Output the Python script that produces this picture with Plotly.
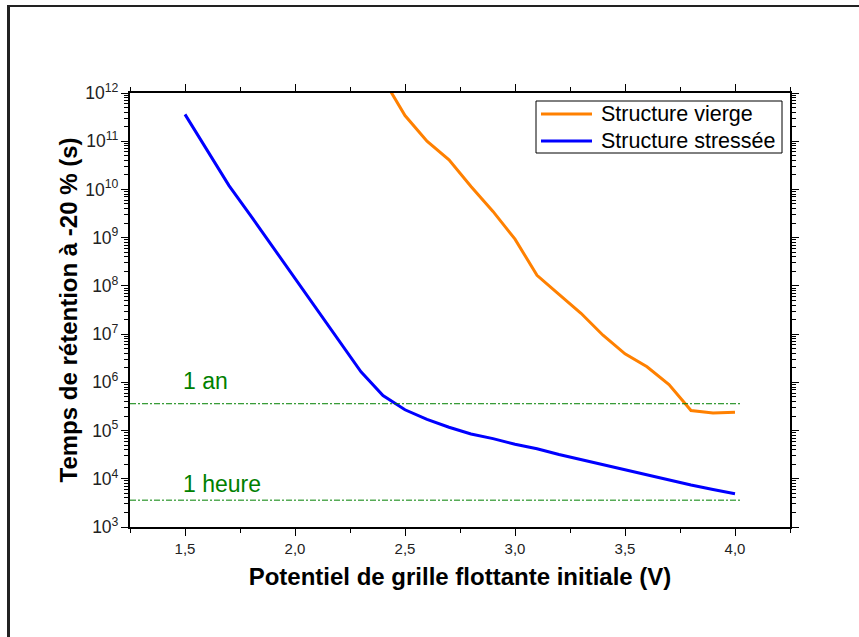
import math
import plotly.graph_objects as go

# Potentiel de grille flottante initiale (V)
v_vierge = [2.4, 2.5, 2.6, 2.7, 2.8, 2.9, 3.0, 3.1, 3.2, 3.3, 3.4, 3.5, 3.6, 3.7, 3.8, 3.9, 4.0]
t_vierge = [2.0e12, 3.4e11, 1.0e11, 4.1e10, 1.15e10, 3.5e9, 9.3e8, 1.66e8, 6.7e7, 2.7e7,
            9.5e6, 3.9e6, 2.1e6, 9.0e5, 2.6e5, 2.3e5, 2.4e5]

v_stress = [1.5, 1.6, 1.7, 1.8, 1.9, 2.0, 2.1, 2.2, 2.3, 2.4, 2.5, 2.6, 2.7, 2.8, 2.9,
            3.0, 3.1, 3.2, 3.3, 3.4, 3.5, 3.6, 3.7, 3.8, 3.9, 4.0]
t_stress = [3.6e11, 6.5e10, 1.2e10, 2.8e9, 6.3e8, 1.45e8, 3.3e7, 7.5e6, 1.65e6, 5.3e5,
            2.7e5, 1.7e5, 1.17e5, 8.5e4, 6.8e4, 5.2e4, 4.2e4, 3.2e4, 2.5e4, 1.95e4,
            1.5e4, 1.17e4, 9.3e3, 7.4e3, 6.0e3, 4.9e3]

# Seuils de rétention (s)
seuil_noms = ["1 an", "1 heure"]
seuil_vals = [3.6e5, 3.6e3]
seuil_xmax = 4.03

series_noms = ["Structure vierge", "Structure stressée"]
series_couleurs = ["#FF8000", "#0000FF"]

W, H = 859, 637
L, R, T, B = 130, 69, 93, 110
font = "Liberation Sans, Arial, sans-serif"
green = "#008000"


def px_x(px):
    """pixel horizontal -> coordonnée papier"""
    return (px - L) / (W - L - R)


def px_y(py):
    """pixel vertical -> coordonnée papier"""
    return (H - B - py) / (H - T - B)


fig = go.Figure()
for (xs, ys), nom, coul in zip([(v_vierge, t_vierge), (v_stress, t_stress)],
                               series_noms, series_couleurs):
    fig.add_trace(go.Scatter(x=xs, y=ys, mode="lines", name=nom, showlegend=False,
                             line=dict(color=coul, width=3)))

decalage_texte = {"1 an": 8, "1 heure": 1}
for nom, val in zip(seuil_noms, seuil_vals):
    fig.add_trace(go.Scatter(x=[1.25, seuil_xmax], y=[val, val], mode="lines",
                             showlegend=False, hoverinfo="skip",
                             line=dict(color=green, width=1, dash="6px,2px,2px,2px")))
    fig.add_annotation(x=1.5, y=math.log10(val), xref="x", yref="y", text=nom,
                       showarrow=False, xanchor="left", yanchor="bottom",
                       xshift=-4, yshift=decalage_texte[nom],
                       font=dict(family=font, size=23, color=green))

# légende dessinée : cadre, échantillons de trait et libellés
fig.add_shape(type="rect", xref="paper", yref="paper",
              x0=px_x(536), x1=px_x(782), y0=px_y(101), y1=px_y(153),
              line=dict(color="black", width=1), fillcolor="white", layer="above")
for i, (nom, coul) in enumerate(zip(series_noms, series_couleurs)):
    yc = 114 + 27 * i
    fig.add_shape(type="line", xref="paper", yref="paper",
                  x0=px_x(541), x1=px_x(592), y0=px_y(yc), y1=px_y(yc),
                  line=dict(color=coul, width=3), layer="above")
    fig.add_annotation(x=px_x(599), y=px_y(yc), xref="paper", yref="paper", text=nom,
                       showarrow=False, xanchor="left", yanchor="middle",
                       font=dict(family=font, size=21.5, color="black"))

# cadre extérieur (haut et gauche)
fig.add_shape(type="line", xref="paper", yref="paper",
              x0=px_x(7), x1=px_x(W + 2), y0=px_y(6), y1=px_y(6),
              line=dict(color="#222222", width=2))
fig.add_shape(type="line", xref="paper", yref="paper",
              x0=px_x(8.5), x1=px_x(8.5), y0=px_y(5), y1=px_y(H + 2),
              line=dict(color="#222222", width=3))

fig.update_layout(
    width=W, height=H,
    margin=dict(l=L, r=R, t=T, b=B),
    paper_bgcolor="white", plot_bgcolor="white",
    separators=", ",
    font=dict(family=font, color="#222222"),
    showlegend=False,
)

fig.update_xaxes(
    range=[1.25, 4.25], tickmode="linear", tick0=1.5, dtick=0.5, tickformat=".1f",
    ticks="outside", ticklen=7, tickwidth=1.2, tickcolor="black",
    minor=dict(dtick=0.25, tick0=1.25, ticks="outside", ticklen=4, tickcolor="black", tickwidth=1),
    showline=True, linecolor="black", linewidth=1.5, mirror="allticks",
    showgrid=False, zeroline=False,
    tickfont=dict(family=font, size=15, color="#222222"),
    title=dict(text="<b>Potentiel de grille flottante initiale (V)</b>",
               font=dict(family=font, size=24, color="black"), standoff=12),
)
fig.update_yaxes(
    type="log", range=[3, 12], dtick=1, exponentformat="power",
    ticks="outside", ticklen=7, tickwidth=1.2, tickcolor="black",
    minor=dict(ticks="outside", ticklen=4, tickcolor="black", tickwidth=1, dtick="D1"),
    showline=True, linecolor="black", linewidth=1.5, mirror="allticks",
    showgrid=False, zeroline=False,
    tickfont=dict(family=font, size=14, color="#222222"),
    title=dict(text="<b>Temps de rétention à -20 % (s)</b>",
               font=dict(family=font, size=24, color="black"), standoff=1),
)

fig.write_html("out.html")
